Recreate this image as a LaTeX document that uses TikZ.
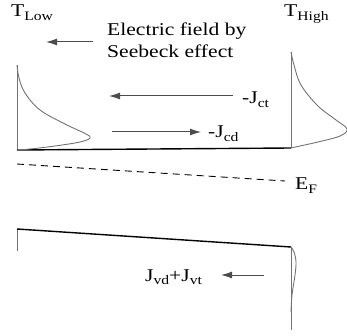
\documentclass[tikz,border=0pt]{standalone}
\usepackage{graphicx}
\usepackage{fontspec}
\setmainfont{Liberation Serif}
\usetikzlibrary{arrows.meta}
\tikzset{
  lbl/.style={inner sep=0pt, font=\fontsize{18}{20}\selectfont},
  curr/.style={draw=black!70, line width=1pt, -{Latex[length=11pt,width=7pt]}},
  axis/.style={draw=black!55, line width=0.9pt},
  band/.style={draw=black, line width=1.4pt},
  dist/.style={draw=black!55, line width=0.9pt},
}
\newcommand{\lsub}[1]{\raisebox{-3.5pt}{\fontsize{13}{14}\selectfont #1}}
\newcommand{\wtxt}[1]{\scalebox{1.2}[1]{#1}}
\begin{document}
\begin{tikzpicture}[x=1pt,y=-1pt]
\useasboundingbox (0,0) rectangle (347,336);
% conduction band region
\coordinate (cl) at (17,150);
\coordinate (cr) at (291,148);
\coordinate (ct) at (17,65);
\coordinate (crt) at (291,52);
\draw[axis] (ct) -- (cl);
\draw[axis] (crt) -- (cr);
\draw[band] (cl) -- (cr);
\draw[dist] plot[smooth, tension=0.6] coordinates {(17,65) (19,78) (25,93) (40,110) (65,124) (86,134) (90,138) (80,142) (55,146) (30,149) (17,150)};
\draw[dist] plot[smooth, tension=0.6] coordinates {(291,52) (294,65) (301,85) (318,106) (336,120) (347,129) (340,136) (318,142) (300,146) (291,148)};
% Fermi level
\coordinate (efl) at (17,164);
\coordinate (efr) at (285,181);
\draw[dashed, dash pattern=on 7pt off 5pt, line width=0.9pt] (efl) -- (efr);
\node[lbl, anchor=base west] (ef) at (295,190) {\wtxt{E\lsub{F}}};
% valence band
\coordinate (vl) at (17,229);
\coordinate (vlb) at (17,251);
\coordinate (vr) at (291,247);
\coordinate (vrb) at (291,330);
\draw[axis] (vl) -- (vlb);
\draw[axis] (vr) -- (vrb);
\draw[band] (vl) -- (vr);
\draw[dist] plot[smooth, tension=0.6] coordinates {(291,247) (294,252) (296,262) (295,275) (292,295) (291,312)};
% labels
\node[lbl, anchor=base west] (tlow) at (11,17) {\wtxt{T\lsub{Low}}};
\node[lbl, anchor=base west] (thigh) at (284,17) {\wtxt{T\lsub{High}}};
\node[lbl, anchor=base west] (ef1) at (107,36) {\wtxt{Electric field by}};
\node[lbl, anchor=base west] (ef2) at (107,58) {\wtxt{Seebeck effect}};
\coordinate (a1s) at (93,42);
\coordinate (a1e) at (46,42);
\draw[curr] (a1s) -- (a1e);
% currents
\node[lbl, anchor=base west] (jct) at (242,104) {\wtxt{-J\lsub{ct}}};
\node[lbl, anchor=base west] (jcd) at (208,138) {\wtxt{-J\lsub{cd}}};
\coordinate (a2s) at (233,96);
\coordinate (a3s) at (112,132);
\draw[curr] (a2s) -- (109,96);
\draw[curr] (a3s) -- (201,132);
\node[lbl, anchor=base west] (jv) at (145,281) {\wtxt{J\lsub{vd}+J\lsub{vt}}};
\coordinate (a4s) at (264,275);
\draw[curr] (a4s) -- (221,275);
\end{tikzpicture}
\end{document}
